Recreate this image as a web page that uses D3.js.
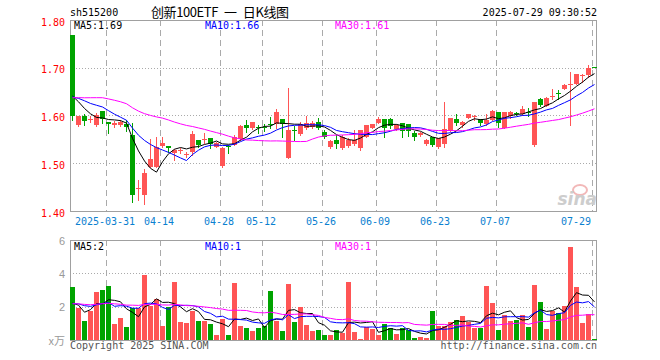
<!DOCTYPE html>
<meta charset="utf-8">
<style>
    body {
        margin: 0;
        background: #fff;
    }

    svg {
        display: block;
    }

    text {
        font-family: "DejaVu Sans Mono", monospace;
        font-size: 10px;
    }
</style>

<body>
    <script src="https://d3js.org/d3.v7.min.js"></script>
    <script>

        // trading days shown (2025)
        var dates = [
            "03-21", "03-24", "03-25", "03-26", "03-27", "03-28", "03-31",
            "04-01", "04-02", "04-03", "04-07", "04-08", "04-09", "04-10", "04-11", "04-14", "04-15", "04-16", "04-17", "04-18",
            "04-21", "04-22", "04-23", "04-24", "04-25", "04-28", "04-29", "04-30",
            "05-06", "05-07", "05-08", "05-09", "05-12", "05-13", "05-14", "05-15", "05-16", "05-19", "05-20", "05-21", "05-22",
            "05-23", "05-26", "05-27", "05-28", "05-29", "05-30",
            "06-03", "06-04", "06-05", "06-06", "06-09", "06-10", "06-11", "06-12", "06-13", "06-16", "06-17", "06-18", "06-19",
            "06-20", "06-23", "06-24", "06-25", "06-26", "06-27", "06-30",
            "07-01", "07-02", "07-03", "07-04", "07-07", "07-08", "07-09", "07-10", "07-11", "07-14", "07-15", "07-16", "07-17",
            "07-18", "07-21", "07-22", "07-23", "07-24", "07-25", "07-28", "07-29"
        ];

        var open = [
            1.769, 1.581, 1.599, 1.592, 1.581, 1.611, 1.587, 1.581, 1.582, 1.583,
            1.560, 1.448, 1.435, 1.494, 1.494, 1.537, 1.538, 1.522, 1.527, 1.520,
            1.524, 1.550, 1.550, 1.553, 1.536, 1.496, 1.537, 1.540, 1.551, 1.581,
            1.574, 1.578, 1.576, 1.584, 1.583, 1.593, 1.512, 1.571, 1.562, 1.575,
            1.578, 1.588, 1.567, 1.536, 1.550, 1.532, 1.537, 1.542, 1.532, 1.557,
            1.575, 1.586, 1.593, 1.593, 1.572, 1.586, 1.583, 1.565, 1.560, 1.542,
            1.557, 1.535, 1.542, 1.568, 1.593, 1.581, 1.596, 1.598, 1.593, 1.583,
            1.592, 1.608, 1.575, 1.599, 1.606, 1.604, 1.608, 1.539, 1.635, 1.621,
            1.641, 1.649, 1.657, 1.666, 1.668, 1.685, 1.686, 1.703
        ];

        var high = [
            1.770, 1.601, 1.604, 1.600, 1.606, 1.611, 1.587, 1.590, 1.592, 1.592,
            1.585, 1.467, 1.488, 1.551, 1.557, 1.556, 1.538, 1.531, 1.533, 1.525,
            1.568, 1.550, 1.564, 1.553, 1.546, 1.535, 1.539, 1.560, 1.581, 1.592,
            1.588, 1.582, 1.583, 1.597, 1.615, 1.593, 1.658, 1.580, 1.587, 1.599,
            1.589, 1.596, 1.571, 1.550, 1.560, 1.560, 1.553, 1.571, 1.571, 1.582,
            1.584, 1.597, 1.593, 1.595, 1.584, 1.586, 1.583, 1.569, 1.566, 1.551,
            1.557, 1.553, 1.629, 1.596, 1.604, 1.590, 1.605, 1.603, 1.593, 1.604,
            1.612, 1.608, 1.609, 1.610, 1.609, 1.621, 1.617, 1.630, 1.637, 1.639,
            1.657, 1.654, 1.668, 1.692, 1.689, 1.689, 1.707, 1.703
        ];

        var low = [
            1.592, 1.580, 1.581, 1.587, 1.580, 1.586, 1.565, 1.576, 1.579, 1.569,
            1.419, 1.425, 1.416, 1.494, 1.494, 1.535, 1.524, 1.508, 1.522, 1.515,
            1.519, 1.536, 1.543, 1.532, 1.535, 1.494, 1.522, 1.539, 1.549, 1.567,
            1.573, 1.565, 1.568, 1.575, 1.575, 1.556, 1.511, 1.549, 1.560, 1.573,
            1.575, 1.572, 1.554, 1.533, 1.532, 1.530, 1.536, 1.540, 1.529, 1.556,
            1.574, 1.585, 1.557, 1.575, 1.570, 1.556, 1.558, 1.549, 1.559, 1.540,
            1.538, 1.533, 1.535, 1.568, 1.581, 1.578, 1.595, 1.592, 1.581, 1.582,
            1.591, 1.578, 1.574, 1.596, 1.602, 1.603, 1.601, 1.537, 1.621, 1.620,
            1.635, 1.636, 1.656, 1.582, 1.667, 1.672, 1.681, 1.702
        ];

        var close = [
            1.599, 1.600, 1.590, 1.594, 1.602, 1.594, 1.583, 1.586, 1.587, 1.576,
            1.435, 1.450, 1.481, 1.510, 1.536, 1.544, 1.533, 1.529, 1.528, 1.521,
            1.562, 1.540, 1.551, 1.542, 1.543, 1.532, 1.536, 1.556, 1.580, 1.574,
            1.588, 1.574, 1.575, 1.583, 1.608, 1.583, 1.571, 1.569, 1.583, 1.586,
            1.585, 1.574, 1.557, 1.547, 1.542, 1.557, 1.550, 1.549, 1.571, 1.581,
            1.583, 1.594, 1.575, 1.579, 1.581, 1.569, 1.568, 1.557, 1.565, 1.550,
            1.540, 1.553, 1.572, 1.595, 1.585, 1.588, 1.604, 1.599, 1.585, 1.592,
            1.611, 1.585, 1.608, 1.608, 1.605, 1.615, 1.607, 1.629, 1.622, 1.638,
            1.642, 1.648, 1.665, 1.667, 1.689, 1.686, 1.700, 1.702
        ];

        // volume, in 万
        var volume = [
            3.22, 1.98, 1.18, 1.78, 2.94, 3.04, 3.28, 1.00, 1.36, 0.82,
            1.98, 1.98, 3.94, 2.10, 2.50, 0.90, 2.04, 3.52, 1.12, 1.06,
            1.80, 1.18, 1.18, 1.00, 0.36, 1.30, 0.30, 3.46, 0.90, 0.76,
            0.58, 0.76, 0.90, 2.98, 1.18, 0.58, 3.40, 1.12, 2.04, 0.96,
            0.58, 0.64, 0.36, 0.36, 0.64, 0.48, 3.52, 0.52, 0.10, 0.80,
            0.70, 0.34, 1.00, 0.76, 0.40, 0.76, 0.66, 0.16, 0.22, 0.16,
            1.78, 0.90, 0.90, 1.12, 1.24, 1.48, 1.14, 0.76, 0.76, 3.28,
            2.26, 0.64, 1.54, 1.18, 1.24, 1.54, 0.82, 3.34, 2.32, 0.70,
            1.78, 1.66, 2.08, 5.62, 3.22, 1.06, 1.58, 0.10
        ];

        // days before the window, only needed for the moving averages
        var priorClose = [
            1.59, 1.60, 1.59, 1.60, 1.595, 1.66, 1.67, 1.68, 1.70, 1.69,
            1.66, 1.64, 1.62, 1.63, 1.62, 1.65, 1.66, 1.64, 1.62, 1.63,
            1.63, 1.64, 1.65, 1.64, 1.63, 1.66, 1.66, 1.65, 1.64
        ];
        var priorVolume = [
            2.3, 2.1, 2.4, 2.0, 2.2, 2.5, 1.9, 2.2, 2.3, 2.1,
            2.4, 2.0, 2.2, 2.3, 2.1, 2.2, 2.4, 2.0, 2.3, 2.2,
            2.1, 2.3, 2.2, 2.0, 2.3, 2.6, 3.3, 1.0, 1.1
        ];

        var tickDates = ["03-31", "04-14", "04-28", "05-12", "05-26", "06-09", "06-23", "07-07", "07-29"];
        var tickText = ["2025-03-31", "04-14", "04-28", "05-12", "05-26", "06-09", "06-23", "07-07", "07-29"];
        var priceTicks = [1.40, 1.50, 1.60, 1.70, 1.80];
        var volTicks = [2, 4, 6];

        var maPeriods = [5, 10, 30];
        var maColors = ["#000000", "#0000ff", "#ff00ff"];
        var maPriceText = ["1.69", "1.66", "1.61"];
        var maVolText = ["2", "1", "1"];

        var red = "#ff5555",
            green = "#00a300",
            frameColor = "#a0a0a0",
            gridColor = "#aaaaaa";

        var width = 660,
            height = 360,
            left = 70,
            right = 597;

        var svg = d3.select("body")
            .append("svg")
            .attr("width", width)
            .attr("height", height);

        var x = d3.scaleLinear()
            .domain([0, dates.length - 1])
            .range([72.5, 72.5 + 6 * (dates.length - 1)]);

        var yP = d3.scaleLinear()
            .domain([1.40, 1.80])
            .range([211.5, 20.5]);

        var yV = d3.scaleLinear()
            .domain([0, 6])
            .range([340.5, 240.5]);

        function crisp(v) { return Math.round(v - 0.5) + 0.5; }

        function movingAvg(prior, values, n) {
            var all = prior.concat(values), off = prior.length;
            return values.map(function (v, i) {
                var s = 0;
                for (var k = off + i - n + 1; k <= off + i; k++) s += all[k];
                return s / n;
            });
        }

        var data = dates.map(function (d, i) {
            return { i: i, date: d, o: open[i], h: high[i], l: low[i], c: close[i], v: volume[i] };
        });

        function colorOf(d) { return d.c >= d.o ? red : green; }

        /* ------- GRID -------*/

        var grid = svg.append("g");

        [[yP, [1.50, 1.60, 1.70], 20, 211], [yV, [2, 4], 240, 340]].forEach(function (p) {
            grid.selectAll(null)
                .data(p[1])
                .enter().append("line")
                .attr("x1", left).attr("x2", right)
                .attr("y1", function (d) { return crisp(p[0](d)); })
                .attr("y2", function (d) { return crisp(p[0](d)); })
                .attr("stroke", gridColor)
                .attr("stroke-dasharray", "1,2");

            grid.selectAll(null)
                .data(tickDates)
                .enter().append("line")
                .attr("x1", function (d) { return x(dates.indexOf(d)) - 2; })
                .attr("x2", function (d) { return x(dates.indexOf(d)) - 2; })
                .attr("y1", p[2]).attr("y2", p[3])
                .attr("stroke", gridColor)
                .attr("stroke-dasharray", "6,4");
        });

        /* ------- FRAMES -------*/

        svg.append("rect")
            .attr("x", left + 0.5).attr("y", 20.5)
            .attr("width", right - left - 1).attr("height", 191)
            .attr("fill", "none").attr("stroke", frameColor);

        svg.append("rect")
            .attr("x", left + 0.5).attr("y", 240.5)
            .attr("width", right - left - 1).attr("height", 100)
            .attr("fill", "none").attr("stroke", frameColor);

        /* ------- SINA MARK -------*/

        var logo = svg.append("g");
        logo.append("ellipse")
            .attr("cx", 580).attr("cy", 190)
            .attr("rx", 7).attr("ry", 5)
            .attr("fill", "none")
            .attr("stroke", "#f2b8b8")
            .attr("stroke-width", 2);
        logo.append("text")
            .attr("x", 597).attr("y", 205)
            .attr("text-anchor", "end")
            .style("font-family", "'DejaVu Sans', sans-serif")
            .style("font-size", "17px")
            .style("font-style", "italic")
            .style("font-weight", "bold")
            .attr("fill", "#cdcdcd")
            .text("sina");

        /* ------- CANDLES -------*/

        var candles = svg.append("g");

        candles.selectAll("rect.wick")
            .data(data)
            .enter().append("rect")
            .attr("class", "wick")
            .attr("x", function (d) { return x(d.i) - 0.5; })
            .attr("y", function (d) { return Math.round(yP(d.h)); })
            .attr("width", 1)
            .attr("height", function (d) { return Math.max(1, Math.round(yP(d.l)) - Math.round(yP(d.h)) + 1); })
            .attr("fill", colorOf);

        candles.selectAll("rect.body")
            .data(data)
            .enter().append("rect")
            .attr("class", "body")
            .attr("x", function (d) { return x(d.i) - 2.5; })
            .attr("y", function (d) { return Math.round(yP(Math.max(d.o, d.c))); })
            .attr("width", 5)
            .attr("height", function (d) { return Math.max(1, Math.round(yP(Math.min(d.o, d.c))) - Math.round(yP(Math.max(d.o, d.c)))); })
            .attr("fill", colorOf);

        /* ------- VOLUME BARS -------*/

        svg.append("g").selectAll("rect")
            .data(data)
            .enter().append("rect")
            .attr("x", function (d) { return x(d.i) - 2.5; })
            .attr("y", function (d) { return Math.round(yV(d.v)); })
            .attr("width", 5)
            .attr("height", function (d) { return 340 - Math.round(yV(d.v)); })
            .attr("fill", colorOf);

        /* ------- MOVING AVERAGES -------*/

        maPeriods.forEach(function (n, k) {
            var mp = movingAvg(priorClose, close, n);
            var mv = movingAvg(priorVolume, volume, n);

            svg.append("path")
                .datum(mp)
                .attr("fill", "none")
                .attr("stroke", maColors[k])
                .attr("stroke-width", 1)
                .attr("d", d3.line().x(function (d, i) { return x(i); }).y(function (d) { return yP(d); }));

            svg.append("path")
                .datum(mv)
                .attr("fill", "none")
                .attr("stroke", maColors[k])
                .attr("stroke-width", 1)
                .attr("d", d3.line().x(function (d, i) { return x(i); }).y(function (d) { return yV(d); }));
        });

        /* ------- LABELS -------*/

        var maX = [74, 205, 335];
        maPeriods.forEach(function (n, k) {
            svg.append("text")
                .attr("x", maX[k]).attr("y", 29)
                .attr("fill", maColors[k])
                .text("MA" + n + ":" + maPriceText[k]);
            svg.append("text")
                .attr("x", maX[k]).attr("y", 250)
                .attr("fill", maColors[k])
                .text("MA" + n + ":" + maVolText[k]);
        });

        svg.append("g").selectAll("text")
            .data(priceTicks)
            .enter().append("text")
            .attr("x", 65)
            .attr("y", function (d) { return yP(d) + 5; })
            .attr("text-anchor", "end")
            .attr("fill", "#ff0000")
            .text(function (d) { return d.toFixed(2); });

        svg.append("g").selectAll("text")
            .data(volTicks)
            .enter().append("text")
            .attr("x", 65)
            .attr("y", function (d) { return yV(d) + 4; })
            .attr("text-anchor", "end")
            .attr("fill", "#999999")
            .style("font-family", "'Liberation Sans', Arial, sans-serif")
            .style("font-size", "11px")
            .text(function (d) { return d; });

        svg.append("text")
            .attr("x", 65).attr("y", 345)
            .attr("text-anchor", "end")
            .attr("fill", "#999999")
            .style("font-family", "'Noto Sans CJK SC', sans-serif")
            .style("font-size", "11px")
            .text("x万");

        svg.append("g").selectAll("text")
            .data(tickDates)
            .enter().append("text")
            .attr("x", function (d) { return x(dates.indexOf(d)) - 3.5; })
            .attr("y", 225)
            .attr("text-anchor", function (d, i) { return i == tickDates.length - 1 ? "end" : "middle"; })
            .attr("fill", "#0a80d0")
            .text(function (d, i) { return tickText[i]; });

        svg.append("text")
            .attr("x", 70).attr("y", 16)
            .attr("fill", "#000")
            .text("sh515200");

        svg.append("text")
            .attr("x", 151).attr("y", 17)
            .attr("fill", "#000")
            .attr("textLength", 138)
            .style("font-family", "'Noto Sans CJK SC', sans-serif")
            .style("font-size", "13px")
            .text("创新100ETF\u2002一\u2002日K线图");

        svg.append("text")
            .attr("x", 597).attr("y", 16)
            .attr("text-anchor", "end")
            .attr("fill", "#000")
            .text("2025-07-29 09:30:52");

        svg.append("text")
            .attr("x", 70).attr("y", 349)
            .attr("fill", "#555555")
            .text("Copyright 2025 SINA.COM");

        svg.append("text")
            .attr("x", 597).attr("y", 349)
            .attr("text-anchor", "end")
            .attr("fill", "#555555")
            .text("http://finance.sina.com.cn");

    </script>
</body>
